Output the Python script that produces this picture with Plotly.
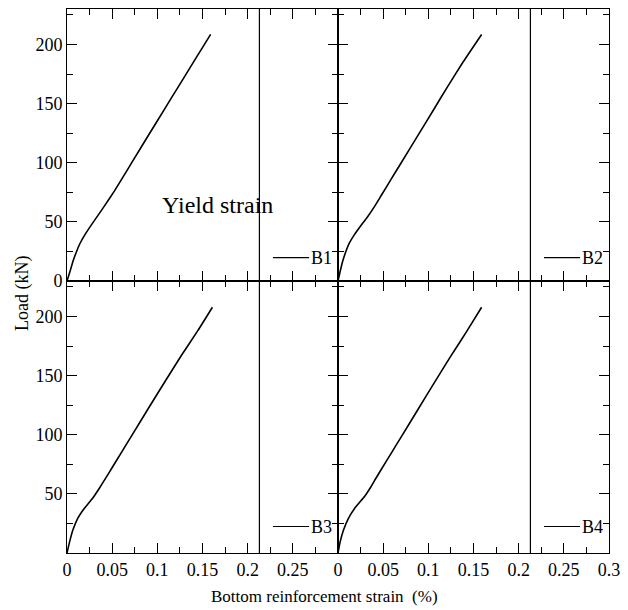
import plotly.graph_objects as go
from plotly.subplots import make_subplots

# Load–strain records for the four beams (strain in %, load in kN)
strain_b1 = [0, 0.0033, 0.007, 0.0106, 0.0142, 0.0197, 0.027, 0.0343, 0.0415, 0.0524,
             0.0633, 0.072, 0.090, 0.1085, 0.123, 0.141, 0.159]
load_b1 = [0, 8.0, 17.5, 25.0, 31.5, 39.0, 47.5, 55.5, 63.5, 76.0,
           89.5, 100.5, 123.0, 146.0, 164.0, 186.3, 208.5]

strain_b2 = [0, 0.0025, 0.0055, 0.009, 0.0125, 0.018, 0.025, 0.032, 0.040, 0.048,
             0.059, 0.070, 0.088, 0.106, 0.121, 0.139, 0.159]
load_b2 = [0, 8.5, 17.5, 25.5, 32.0, 39.0, 46.5, 53.5, 62.5, 72.5,
           86.3, 100.0, 122.5, 145.0, 164.0, 185.8, 208.5]

strain_b3 = [0, 0.003, 0.0066, 0.012, 0.0193, 0.0284, 0.036, 0.043, 0.0502, 0.061,
             0.072, 0.090, 0.1085, 0.1266, 0.145, 0.161]
load_b3 = [0, 9.8, 19.6, 29.5, 37.9, 46.3, 55.0, 63.5, 72.5, 86.0,
           99.7, 122.2, 145.0, 167.0, 188.2, 207.8]

strain_b4 = [0, 0.0025, 0.0062, 0.0117, 0.0189, 0.0298, 0.0365, 0.042, 0.048, 0.059,
             0.070, 0.088, 0.106, 0.1245, 0.143, 0.159]
load_b4 = [0, 9.8, 19.6, 29.5, 38.2, 48.2, 56.0, 63.2, 70.8, 84.5,
           98.2, 120.7, 143.2, 166.0, 188.0, 207.8]

beam_names = ["B1", "B2", "B3", "B4"]
legend_load = [19.7, 19.7, 22.4, 22.4]
yield_strain = 0.213

x_ticks = [0, 0.05, 0.1, 0.15, 0.2, 0.25, 0.3]
x_labels_left = ["0", "0.05", "0.1", "0.15", "0.2", "0.25", ""]
x_labels_right = ["0", "0.05", "0.1", "0.15", "0.2", "0.25", "0.3"]
y_ticks = [0, 50, 100, 150, 200]
y_labels_top = ["0", "50", "100", "150", "200"]
y_labels_bottom = ["", "50", "100", "150", "200"]

FONT = "Liberation Serif"

fig = make_subplots(rows=2, cols=2, horizontal_spacing=0, vertical_spacing=0)

series = [(strain_b1, load_b1), (strain_b2, load_b2), (strain_b3, load_b3), (strain_b4, load_b4)]
cells = [(1, 1), (1, 2), (2, 1), (2, 2)]

for (xs, ys), (r, c), name in zip(series, cells, beam_names):
    fig.add_trace(go.Scatter(x=xs, y=ys, mode="lines", name=name,
                             line=dict(color="black", width=1.6, shape="spline", smoothing=0.4),
                             showlegend=False), row=r, col=c)

axis_common = dict(showline=True, linecolor="black", linewidth=1, mirror="allticks",
                   ticks="inside", ticklen=10, tickwidth=1.2, tickcolor="black",
                   showgrid=False, zeroline=False,
                   tickfont=dict(family=FONT, size=18, color="black"))

for r, c in cells:
    xlabels = x_labels_left if c == 1 else x_labels_right
    fig.update_xaxes(range=[0, 0.3], tickvals=x_ticks,
                     ticktext=xlabels if r == 2 else [""] * len(x_ticks),
                     minor=dict(dtick=0.025, tick0=0, ticks="inside", ticklen=6,
                                tickcolor="black", tickwidth=1.2),
                     row=r, col=c, **axis_common)
    ylabels = (y_labels_top if r == 1 else y_labels_bottom) if c == 1 else [""] * len(y_ticks)
    fig.update_yaxes(range=[0, 230], tickvals=y_ticks, ticktext=ylabels,
                     minor=dict(dtick=25, tick0=0, ticks="inside", ticklen=6,
                                tickcolor="black", tickwidth=1.2),
                     row=r, col=c, **axis_common)

axis_ids = ["", "2", "3", "4"]
for aid, name, ly in zip(axis_ids, beam_names, legend_load):
    xref = "x" + aid
    yref = "y" + aid
    # yield strain marker line
    fig.add_shape(type="line", xref=xref, yref=yref + " domain",
                  x0=yield_strain, x1=yield_strain, y0=0, y1=1,
                  line=dict(color="black", width=1.2))
    # legend sample
    fig.add_shape(type="line", xref=xref, yref=yref,
                  x0=0.228, x1=0.268, y0=ly, y1=ly,
                  line=dict(color="black", width=1.2))
    fig.add_annotation(xref=xref, yref=yref, x=0.268, y=ly, text=name,
                       xanchor="left", yanchor="middle", showarrow=False,
                       font=dict(family=FONT, size=18, color="black"))

fig.add_annotation(xref="x", yref="y", x=0.1667, y=64, text="Yield strain",
                   xanchor="center", yanchor="middle", showarrow=False,
                   font=dict(family=FONT, size=24, color="black"))

fig.add_annotation(xref="paper", yref="paper", x=0.476, y=-0.08,
                   text="Bottom reinforcement strain  (%)", xanchor="center",
                   yanchor="middle", showarrow=False,
                   font=dict(family=FONT, size=17, color="black"))
fig.add_annotation(xref="paper", yref="paper", x=-0.082, y=0.477,
                   text="Load (kN)", textangle=-90, xanchor="center",
                   yanchor="middle", showarrow=False,
                   font=dict(family=FONT, size=18, color="black"))

fig.update_layout(width=628, height=610,
                  margin=dict(l=67, r=13, t=8, b=57),
                  paper_bgcolor="white", plot_bgcolor="white",
                  font=dict(family=FONT, color="black"))

fig.write_html("out.html")
